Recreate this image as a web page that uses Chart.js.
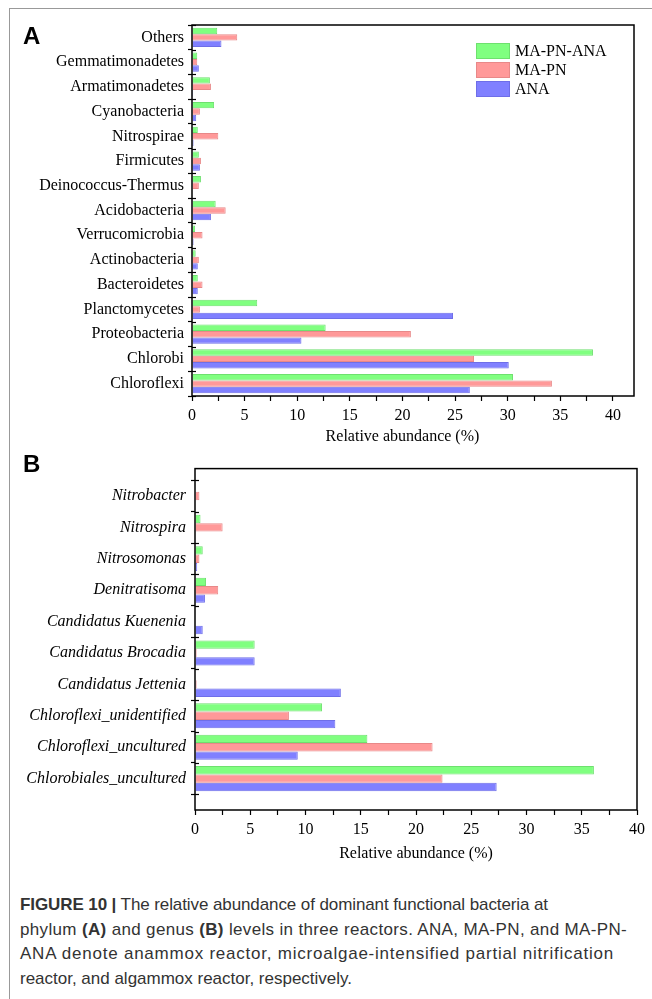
<!DOCTYPE html>
<html>
<head>
<meta charset="utf-8">
<script src="https://cdn.jsdelivr.net/npm/chart.js@4.4.1/dist/chart.umd.min.js"></script>
<style>
  body { margin: 0; width: 652px; height: 999px; position: relative; background: #fff; overflow: hidden; }
  .frame { position: absolute; left: 9px; top: 8px; width: 700px; height: 1000px; border-left: 1px solid #999; border-top: 1px solid #999; }
  .letter { position: absolute; left: 23px; font: bold 24px 'Liberation Sans', Arial, sans-serif; line-height: 24px; color: #000; }
  #canvasA { position: absolute; left: 0; top: 0; }
  #canvasB { position: absolute; left: 0; top: 450px; }
  .caption { position: absolute; left: 20px; top: 893px; font: 17px 'Liberation Sans', Arial, sans-serif; line-height: 24.5px; color: #333; white-space: nowrap; }
  .caption span { display: inline-block; }
</style>
</head>
<body>
<div class="frame"></div>
<canvas id="canvasA" width="652" height="450"></canvas>
<canvas id="canvasB" width="652" height="420"></canvas>
<div class="letter" style="top:24px">A</div>
<div class="letter" style="top:452px">B</div>
<div class="caption">
  <span data-w="528"><b>FIGURE 10 |</b> The relative abundance of dominant functional bacteria at</span><br>
  <span data-w="607">phylum <b>(A)</b> and genus <b>(B)</b> levels in three reactors. ANA, MA-PN, and MA-PN-</span><br>
  <span data-w="594">ANA denote anammox reactor, microalgae-intensified partial nitrification</span><br>
  <span data-w="332">reactor, and algammox reactor, respectively.</span>
</div>

<script>
// series
const seriesNames = ['MA-PN-ANA', 'MA-PN', 'ANA'];
const seriesColors = ['#80ff80', '#ff9999', '#8080ff'];
const seriesBorders = ['#6ee06e', '#e88888', '#6e6ee8'];

// panel A - phylum level
const phylumLabels = ['Others', 'Gemmatimonadetes', 'Armatimonadetes', 'Cyanobacteria', 'Nitrospirae',
  'Firmicutes', 'Deinococcus-Thermus', 'Acidobacteria', 'Verrucomicrobia', 'Actinobacteria',
  'Bacteroidetes', 'Planctomycetes', 'Proteobacteria', 'Chlorobi', 'Chloroflexi'];
const phylumMaPnAna = [2.4, 0.5, 1.7, 2.1, 0.55, 0.65, 0.85, 2.25, 0.3, 0.35, 0.55, 6.2, 12.7, 38.1, 30.5];
const phylumMaPn    = [4.3, 0.5, 1.8, 0.75, 2.5, 0.85, 0.65, 3.2, 1.0, 0.65, 1.0, 0.75, 20.8, 26.8, 34.2];
const phylumAna     = [2.8, 0.65, 0.1, 0.4, 0.15, 0.75, 0.05, 1.8, 0.15, 0.55, 0.55, 24.8, 10.4, 30.1, 26.4];

// panel B - genus level
const genusLabels = ['Nitrobacter', 'Nitrospira', 'Nitrosomonas', 'Denitratisoma', 'Candidatus Kuenenia',
  'Candidatus Brocadia', 'Candidatus Jettenia', 'Chloroflexi_unidentified', 'Chloroflexi_uncultured',
  'Chlorobiales_uncultured'];
const genusMaPnAna = [0, 0.5, 0.7, 1.0, 0, 5.4, 0, 11.5, 15.6, 36.1];
const genusMaPn    = [0.4, 2.5, 0.4, 2.1, 0, 0.15, 0.15, 8.5, 21.5, 22.4];
const genusAna     = [0, 0.05, 0.2, 0.9, 0.7, 5.4, 13.2, 12.7, 9.3, 27.3];

const xTicksA = { min: 0, max: 42, step: 2.5 };
const xTicksB = { min: 0, max: 40, step: 2.5 };
const xTitle = 'Relative abundance (%)';

Chart.defaults.font.family = "'Liberation Serif', 'Times New Roman', serif";
Chart.defaults.font.size = 16;
Chart.defaults.color = '#000';

// black box round the plot, inner half of the y ticks, optional axis title
const boxPlugin = {
  id: 'boxPlugin',
  afterDraw(chart, args, opts) {
    const { ctx, chartArea: a, scales } = chart;
    const top = a.top + (opts.topInset || 0);
    ctx.save();
    ctx.strokeStyle = '#000';
    ctx.lineWidth = 1.5;
    ctx.strokeRect(a.left, top, a.right - a.left, a.bottom - top);
    ctx.lineWidth = 1.2;
    (opts.bounds || []).forEach(v => {
      const py = Math.round(scales.y.getPixelForValue(v)) + 0.5;
      ctx.beginPath();
      ctx.moveTo(a.left, py);
      ctx.lineTo(a.left + 4, py);
      ctx.stroke();
    });
    // title centred on the labelled part of the axis (0 - 40)
    if (opts.title) {
      ctx.fillStyle = '#000';
      ctx.font = "16px 'Liberation Serif', serif";
      ctx.textAlign = 'center';
      ctx.textBaseline = 'middle';
      ctx.fillText(opts.title.text, scales.x.getPixelForValue(opts.title.at), a.bottom + opts.title.dy);
    }
    ctx.restore();
  }
};

// legend drawn inside the plot, top right
const boxLegend = {
  id: 'boxLegend',
  afterDraw(chart) {
    const { ctx, chartArea: a } = chart;
    const x0 = a.right - 158, y0 = a.top + 18;
    ctx.save();
    chart.data.datasets.forEach((ds, i) => {
      const y = y0 + i * 19;
      ctx.fillStyle = ds.backgroundColor;
      ctx.fillRect(x0, y, 34, 16);
      ctx.strokeStyle = ds.borderColor;
      ctx.lineWidth = 1;
      ctx.strokeRect(x0 + 0.5, y + 0.5, 33, 15);
      ctx.fillStyle = '#000';
      ctx.font = "16px 'Liberation Serif', serif";
      ctx.textBaseline = 'middle';
      ctx.fillText(ds.label, x0 + 39, y + 9);
    });
    ctx.restore();
  }
};

function makeDatasets(lists, catPct) {
  return lists.map((data, i) => ({
    label: seriesNames[i],
    data: data,
    backgroundColor: seriesColors[i],
    borderColor: seriesBorders[i],
    borderWidth: 1,
    barPercentage: 1,
    categoryPercentage: catPct
  }));
}

function xScale(range, height, title) {
  return {
    type: 'linear',
    min: range.min,
    max: range.max,
    ticks: {
      stepSize: range.step,
      autoSkip: false,
      includeBounds: false,
      padding: 5,
      callback: v => (Math.abs(v % 5) < 1e-9 ? String(v) : '')
    },
    grid: { drawOnChartArea: false, tickLength: 5, tickColor: '#000', tickWidth: 1.2 },
    border: { display: false },
    title: title,
    afterFit: s => { s.height = height; }
  };
}

// Panel A
const boundsA = [];
for (let i = 0; i <= phylumLabels.length; i++) boundsA.push(i - 0.5);

new Chart(document.getElementById('canvasA'), {
  type: 'bar',
  data: {
    labels: phylumLabels,
    datasets: makeDatasets([phylumMaPnAna, phylumMaPn, phylumAna], 0.78)
  },
  options: {
    indexAxis: 'y',
    responsive: false,
    animation: false,
    layout: { padding: { top: 25, right: 18, left: 0, bottom: 0 } },
    plugins: {
      legend: { display: false },
      tooltip: { enabled: false },
      boxPlugin: { bounds: boundsA, title: { text: xTitle, at: 20, dy: 41 } }
    },
    scales: {
      x: xScale(xTicksA, 54, { display: false }),
      y: {
        type: 'category',
        offset: true,
        grid: { offset: true, drawOnChartArea: false, tickLength: 4, tickColor: '#000', tickWidth: 1.2 },
        border: { display: false },
        ticks: { autoSkip: false, padding: 4, font: { size: 16 } },
        afterFit: s => { s.width = 192; }
      }
    }
  },
  plugins: [boxPlugin, boxLegend]
});

// Panel B: empty label at each end gives the margin above and below
const genusAxisLabels = [''].concat(genusLabels, ['']);
const pad = arr => [null].concat(arr, [null]);
const boundsB = [];
for (let i = 0; i <= genusLabels.length; i++) boundsB.push(i + 0.5);

new Chart(document.getElementById('canvasB'), {
  type: 'bar',
  data: {
    labels: genusAxisLabels,
    datasets: makeDatasets([pad(genusMaPnAna), pad(genusMaPn), pad(genusAna)], 0.8)
  },
  options: {
    indexAxis: 'y',
    responsive: false,
    animation: false,
    layout: { padding: { top: 4, right: 15, left: 0, bottom: 0 } },
    plugins: { legend: { display: false }, tooltip: { enabled: false }, boxPlugin: { bounds: boundsB, topInset: 4 } },
    scales: {
      x: xScale(xTicksB, 60, { display: true, text: xTitle, font: { size: 16 }, padding: { top: 0, bottom: 7 } }),
      y: {
        type: 'category',
        offset: false,
        grid: { offset: true, drawOnChartArea: false, tickLength: 4, tickColor: '#000', tickWidth: 1.2 },
        border: { display: false },
        ticks: { autoSkip: false, padding: 5, font: { size: 16, style: 'italic' } },
        afterFit: s => { s.width = 195; }
      }
    }
  },
  plugins: [boxPlugin]
});

// stretch each caption line to the width it has in the figure
document.fonts.ready.then(() => {
  document.querySelectorAll('.caption span').forEach(el => {
    const target = Number(el.dataset.w);
    const n = el.textContent.length;
    const w = el.getBoundingClientRect().width;
    el.style.letterSpacing = ((target - w) / n) + 'px';
  });
});
</script>
</body>
</html>
